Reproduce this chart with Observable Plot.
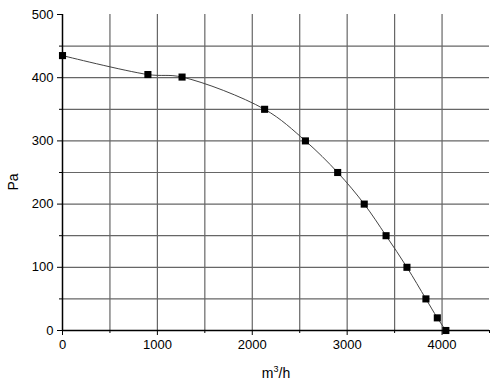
<!DOCTYPE html>
<html>
<head>
<meta charset="utf-8">
<script src="https://cdn.jsdelivr.net/npm/d3@7"></script>
<script src="https://cdn.jsdelivr.net/npm/@observablehq/plot@0.6"></script>
<style>
  html, body { margin: 0; padding: 0; background: #fff; }
  #chart { width: 500px; height: 392px; }
</style>
</head>
<body>
<div id="chart"></div>
<script>
// Data
const flow = [0, 900, 1260, 2130, 2560, 2900, 3180, 3410, 3630, 3830, 3950, 4040];
const pressure = [435, 405, 401, 350, 300, 250, 200, 150, 100, 50, 20, 0];
const xMajorTicks = [0, 1000, 2000, 3000, 4000];
const xMinorTicks = [500, 1500, 2500, 3500, 4500];
const yMajorTicks = [0, 100, 200, 300, 400, 500];
const yMinorTicks = [50, 150, 250, 350, 450];
const xGrid = [500, 1000, 1500, 2000, 2500, 3000, 3500, 4000];
const yGrid = [50, 100, 150, 200, 250, 300, 350, 400, 450];

const data = flow.map((x, i) => ({x, y: pressure[i]}));

const font = "'Liberation Sans', Arial, sans-serif";

const chart = Plot.plot({
  width: 500,
  height: 392,
  marginLeft: 62,
  marginRight: 11,
  marginTop: 14,
  marginBottom: 62,
  style: {fontFamily: font, fontSize: "13px", color: "#000", background: "#fff"},
  x: {domain: [0, 4500]},
  y: {domain: [0, 500]},
  marks: [
    Plot.ruleX(xGrid, {y1: 0, y2: 500, stroke: "#666", strokeWidth: 1.2}),
    Plot.ruleY(yGrid, {x1: 0, x2: 4500, stroke: "#666", strokeWidth: 1.2}),
    Plot.axisX({ticks: xMajorTicks, tickSize: 5, tickPadding: 4, tickFormat: d3.format("d"), label: null, stroke: "#000", fontSize: 13}),
    Plot.axisX({ticks: xMinorTicks, tickSize: 3, tickFormat: () => "", label: null, stroke: "#000"}),
    Plot.axisY({ticks: yMajorTicks, tickSize: 5, tickPadding: 4, tickFormat: d3.format("d"), label: null, stroke: "#000", fontSize: 13}),
    Plot.axisY({ticks: yMinorTicks, tickSize: 3, tickFormat: () => "", label: null, stroke: "#000"}),
    Plot.ruleY([0], {x1: 0, x2: 4500, stroke: "#000", strokeWidth: 1.5}),
    Plot.ruleX([0], {y1: 0, y2: 500, stroke: "#000", strokeWidth: 1.5}),
    Plot.line(data, {x: "x", y: "y", curve: "catmull-rom", stroke: "#444", strokeWidth: 1}),
    Plot.dot(data, {x: "x", y: "y", symbol: "square", r: 4, fill: "#000", stroke: "none"})
  ]
});

const svg = d3.select(chart);
svg.append("text")
  .attr("transform", "translate(18,182) rotate(-90)")
  .attr("text-anchor", "middle")
  .attr("font-family", font)
  .attr("font-size", 14)
  .attr("fill", "#000")
  .text("Pa");
const xl = svg.append("text")
  .attr("x", 276).attr("y", 378)
  .attr("text-anchor", "middle")
  .attr("font-family", font)
  .attr("font-size", 14)
  .attr("fill", "#000");
xl.append("tspan").text("m");
xl.append("tspan").attr("dy", -6).attr("font-size", 9).text("3");
xl.append("tspan").attr("dy", 6).text("/h");

document.getElementById("chart").appendChild(chart);
</script>
</body>
</html>
